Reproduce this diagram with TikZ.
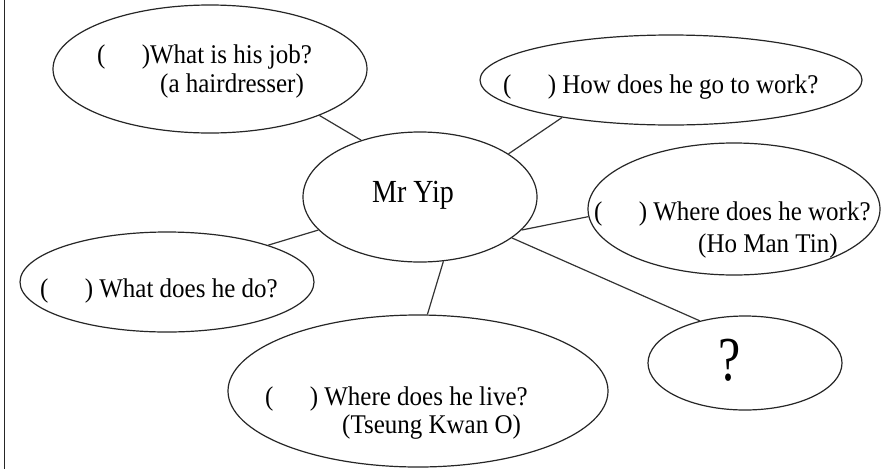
\documentclass[tikz,border=0pt]{standalone}
\usepackage{fontspec}
\setmainfont{Liberation Serif}
\usetikzlibrary{shapes.geometric}
\newcommand{\blank}{(\hspace{1.45em})}
\newcommand{\tall}[1]{\scalebox{1}[1.08]{#1}}
\begin{document}
\begin{tikzpicture}[x=1pt,y=-1pt,
  bubble/.style={ellipse,draw=black!85,line width=1.2pt,inner sep=0pt,minimum width=#1},
  link/.style={draw=black!80,line width=1.2pt},
  txt/.style={anchor=base west,inner sep=0pt,font=\fontsize{25}{29}\selectfont}]
\useasboundingbox (0,0) rectangle (882,469);
\fill[white] (0,0) rectangle (882,469);
\draw[line width=1.8pt,black!85] (4.5,0) -- (4.5,469);
% ellipses
\node[bubble=314pt,minimum height=128pt] (job)  at (210,69) {};
\node[bubble=234pt,minimum height=130pt] (yip)  at (420,197) {};
\node[bubble=382pt,minimum height=90pt]  (how)  at (671,80) {};
\node[bubble=292pt,minimum height=132pt] (work) at (734,209) {};
\node[bubble=294pt,minimum height=100pt] (do)   at (167,282) {};
\node[bubble=380pt,minimum height=152pt] (live) at (418,391) {};
\node[bubble=194pt,minimum height=94pt]  (q)    at (745,363) {};
% connectors
\draw[link] (job.-23) -- (yip.136);
\draw[link] (how.199) -- (yip.26);
\draw[link] (work.183) -- (yip.-18);
\draw[link] (yip.-24) -- (q.137);
\draw[link] (yip.198) -- (do.20);
\draw[link] (yip.-70) -- (live.83);
% texts
\node[txt] (t1a) at (97,63) {\tall{\blank What is his job?}};
\node[txt] (t1b) at (160,92) {\tall{(a hairdresser)}};
\node[txt] (t2)  at (503,93) {\tall{\blank{} How does he go to work?}};
\node[txt] (t3a) at (594,220) {\tall{\blank{} Where does he work?}};
\node[txt] (t3b) at (698,252) {\tall{(Ho Man Tin)}};
\node[txt] (t4)  at (40,297) {\tall{\blank{} What does he do?}};
\node[txt] (t5a) at (265,405) {\tall{\blank{} Where does he live?}};
\node[txt] (t5b) at (342,433) {\tall{(Tseung Kwan O)}};
\node[anchor=base west,inner sep=0pt,font=\fontsize{28}{32}\selectfont] (tm) at (372,202) {\scalebox{1}[1.15]{Mr Yip}};
\node[anchor=base west,inner sep=0pt,font=\fontsize{50}{56}\selectfont] (tq) at (718,380) {\scalebox{1}[1.25]{?}};
\end{tikzpicture}
\end{document}
